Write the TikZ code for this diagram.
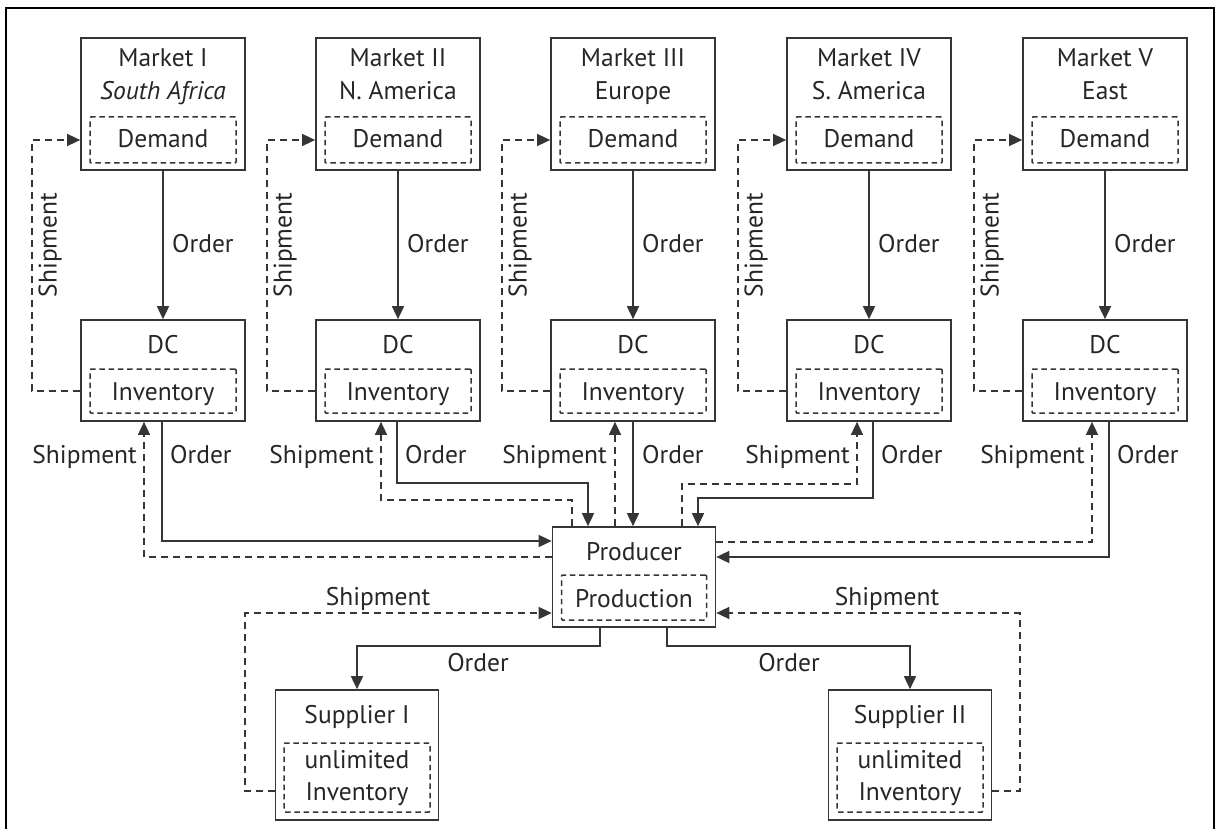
\documentclass[tikz,border=0pt]{standalone}
\usepackage{fontspec}
\setmainfont{PT Sans}
\usetikzlibrary{arrows.meta,calc}
\definecolor{ink}{HTML}{262626}
\definecolor{lin}{HTML}{353535}
\tikzset{
  box/.style={draw=lin, line width=1.7pt, inner sep=0pt},
  inbox/.style={draw=lin, line width=1.5pt, dash pattern=on 5.5pt off 3.8pt, inner sep=0pt, rounded corners=1pt},
  txt/.style={text=ink, inner sep=0pt, anchor=base, font=\fontsize{25.5}{30}\selectfont},
  ord/.style={draw=lin, line width=1.7pt, -{Triangle[length=13pt,width=12pt]}},
  shp/.style={draw=lin, line width=1.5pt, dash pattern=on 7pt off 5pt, -{Triangle[length=13pt,width=12pt]}},
}
\begin{document}
\begin{tikzpicture}[x=1pt,y=-1pt]
\useasboundingbox (0,0) rectangle (1218,829);
\draw[line width=2.5pt] (6,8) rectangle (1214,870);
% markets and DCs
\foreach \i/\cx/\ta/\tb in {1/163/Market I/\textit{South Africa}, 2/398/Market II/N. America, 3/633/Market III/Europe, 4/869/Market IV/S. America, 5/1105/Market V/East}{
  \node[box, minimum width=164pt, minimum height=132pt] (m\i) at (\cx,104) {};
  \node[txt] (ma\i) at (\cx,67) {\ta};
  \node[txt] (mb\i) at (\cx,100) {\tb};
  \node[inbox, minimum width=146pt, minimum height=46pt] (md\i) at (\cx,140) {};
  \node[txt] (mdt\i) at (\cx,148) {Demand};
  \node[box, minimum width=164pt, minimum height=101pt] (dc\i) at (\cx,370.5) {};
  \node[txt] (dca\i) at (\cx,353) {DC};
  \node[inbox, minimum width=146pt, minimum height=44pt] (di\i) at (\cx,391) {};
  \node[txt] (dit\i) at (\cx,400) {Inventory};
  \draw[ord] (m\i.south) -- (dc\i.north);
  \node[txt, anchor=base west] (mo\i) at (\cx+9,252) {Order};
  \draw[shp] ($(dc\i.west)+(0,20.5)$) -| ($(m\i.west)+(-48,36)$) -- ($(m\i.west)+(0,36)$);
  \node[txt, anchor=center, rotate=90] (ms\i) at (\cx-113,245) {Shipment};
}
% producer
\node[box, minimum width=163pt, minimum height=100pt] (p) at (634,577) {};
\node[txt] (pa) at (634,560) {Producer};
\node[inbox, minimum width=145pt, minimum height=45pt] (pi) at (634,597.5) {};
\node[txt] (pb) at (634,607) {Production};
% suppliers
\foreach \i/\cx/\ta in {1/357/Supplier I, 2/910/Supplier II}{
  \node[box, minimum width=163pt, minimum height=130pt] (s\i) at (\cx,755) {};
  \node[txt] (sa\i) at (\cx,723) {\ta};
  \node[inbox, minimum width=146pt, minimum height=69pt] (si\i) at (\cx,777.5) {};
  \node[txt] (sb\i) at (\cx,768) {unlimited};
  \node[txt] (sc\i) at (\cx,800) {Inventory};
}
% DC I
\draw[ord] ($(dc1.south)+(-1,0)$) |- ($(p.west)+(0,-36)$);
\draw[shp] ($(p.west)+(0,-20)$) -| ($(dc1.south)+(-19,0)$);
\node[txt, anchor=base east] (ls1) at (137,463) {Shipment};
\node[txt, anchor=base west] (lo1) at (170,463) {Order};
% DC II
\draw[shp] ($(p.north)+(-62,0)$) |- ($(dc2.south)+(-17,78)$) -- ($(dc2.south)+(-17,0)$);
\draw[ord] ($(dc2.south)+(-1,0)$) |- ($(p.north)+(-46,-43)$) -- ($(p.north)+(-46,0)$);
\node[txt, anchor=base east] (ls2) at (374,463) {Shipment};
\node[txt, anchor=base west] (lo2) at (405,463) {Order};
% DC III
\draw[shp] ($(p.north)+(-19,0)$) -- ($(dc3.south)+(-18,0)$);
\draw[ord] (dc3.south) -- ($(p.north)+(-1,0)$);
\node[txt, anchor=base east] (ls3) at (607,463) {Shipment};
\node[txt, anchor=base west] (lo3) at (642,463) {Order};
% DC IV
\draw[shp] ($(p.north)+(48,0)$) |- ($(dc4.south)+(-12,62)$) -- ($(dc4.south)+(-12,0)$);
\draw[ord] ($(dc4.south)+(4,0)$) |- ($(p.north)+(64,-28)$) -- ($(p.north)+(64,0)$);
\node[txt, anchor=base east] (ls4) at (850,463) {Shipment};
\node[txt, anchor=base west] (lo4) at (881,463) {Order};
% DC V
\draw[shp] ($(p.east)+(0,-35)$) -| ($(dc5.south)+(-13,0)$);
\draw[ord] ($(dc5.south)+(4,0)$) |- ($(p.east)+(0,-20)$);
\node[txt, anchor=base east] (ls5) at (1085,463) {Shipment};
\node[txt, anchor=base west] (lo5) at (1117,463) {Order};
% producer to suppliers
\draw[ord] ($(p.south)+(-34,0)$) |- ($(s1.north)+(0,-43)$) -- (s1.north);
\draw[ord] ($(p.south)+(33,0)$) |- ($(s2.north)+(0,-43)$) -- (s2.north);
\node[txt] (so1) at (478,671) {Order};
\node[txt] (so2) at (789,671) {Order};
\draw[shp] ($(s1.west)+(0,36)$) -| ($(p.west)+(-306.5,36)$) -- ($(p.west)+(0,36)$);
\draw[shp] ($(s2.east)+(0,36)$) -| ($(p.east)+(303.5,36)$) -- ($(p.east)+(0,36)$);
\node[txt] (ss1) at (378,605) {Shipment};
\node[txt] (ss2) at (887,605) {Shipment};
\end{tikzpicture}
\end{document}
